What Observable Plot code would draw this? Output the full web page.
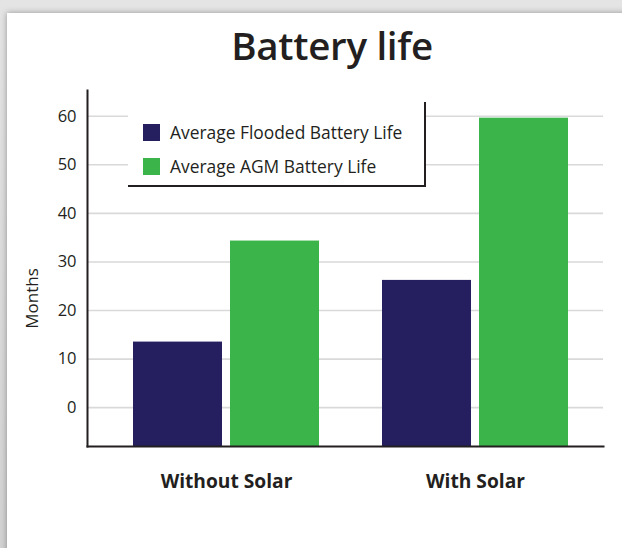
<!DOCTYPE html>
<html>
<head>
<meta charset="utf-8">
<script src="https://cdn.jsdelivr.net/npm/d3@7"></script>
<script src="https://cdn.jsdelivr.net/npm/@observablehq/plot@0.6"></script>
<style>
  html, body { margin: 0; padding: 0; }
  body { width: 622px; height: 548px; overflow: hidden; background: linear-gradient(#e4e4e4, #d2d2d2); position: relative; font-family: "Open Sans", sans-serif; color: #231f20; }
  #card { position: absolute; left: 7px; top: 13px; width: 640px; height: 560px; background: #fff; box-shadow: 0 0 6px rgba(0,0,0,0.35); }
  #title { position: absolute; left: 182px; width: 300px; top: 19px; text-align: center; font-size: 38.5px; font-weight: 600; white-space: nowrap; letter-spacing: -0.3px; }
  #chart { position: absolute; left: 0; top: 80px; }
  #legend { position: absolute; left: 128px; top: 102px; width: 296px; height: 83px; background: #fff; border-right: 2px solid #231f20; border-bottom: 2px solid #231f20; }
  .item { position: absolute; left: 15px; display: flex; align-items: center; font-size: 17.4px; white-space: nowrap; }
  .sw { width: 17px; height: 17px; margin-right: 10px; }
</style>
</head>
<body>
<div id="card"></div>
<div id="chart"></div>
<div id="title">Battery life</div>
<div id="legend"></div>
<script>
const groups = ["Without Solar", "With Solar"];
const series = ["Average Flooded Battery Life", "Average AGM Battery Life"];
const flooded = [13.5, 26.2];
const agm = [34.3, 59.6];
const yTicks = [0, 10, 20, 30, 40, 50, 60];
const yDomain = [-8, 65.3];
const colors = ["#251f5f", "#3bb54a"];

const floodedData = groups.map((g, i) => ({group: g, series: series[0], value: flooded[i]}));
const agmData = groups.map((g, i) => ({group: g, series: series[1], value: agm[i]}));

const plot = Plot.plot({
  width: 622,
  height: 468,
  marginTop: 10,
  marginBottom: 102,
  marginLeft: 87,
  marginRight: 19,
  style: {background: "transparent", fontFamily: "'Open Sans', sans-serif", color: "#231f20", overflow: "visible"},
  x: {domain: groups, paddingInner: 0.253, paddingOuter: 0.1616, align: 0.571, label: null},
  y: {domain: yDomain, label: null},
  color: {domain: series, range: colors},
  marks: [
    Plot.ruleY(yTicks, {stroke: "#d9d9d9", strokeWidth: 1.6}),
    Plot.barY(floodedData, {x: "group", y1: yDomain[0], y2: "value", fill: "series", insetRight: 97}),
    Plot.barY(agmData, {x: "group", y1: yDomain[0], y2: "value", fill: "series", insetLeft: 97}),
    Plot.axisY(yTicks, {tickSize: 0, tickPadding: 11, fontSize: 16.5, label: null}),
    Plot.axisX({tickSize: 0, tickPadding: 28, fontSize: 19.2, fontWeight: "bold", label: null}),
    Plot.text(["Months"], {frameAnchor: "left", textAnchor: "middle", rotate: -90, dx: -55, dy: 30, fontSize: 17}),
    Plot.frame({anchor: "left", stroke: "#231f20", strokeWidth: 2}),
    Plot.frame({anchor: "bottom", stroke: "#231f20", strokeWidth: 2})
  ]
});
document.getElementById("chart").appendChild(plot);

const legend = document.getElementById("legend");
series.forEach((s, i) => {
  const item = document.createElement("div");
  item.className = "item";
  item.style.top = (i === 0 ? 18 : 52) + "px";
  const sw = document.createElement("div");
  sw.className = "sw";
  sw.style.background = colors[i];
  item.appendChild(sw);
  item.appendChild(document.createTextNode(s));
  legend.appendChild(item);
});
</script>
</body>
</html>
